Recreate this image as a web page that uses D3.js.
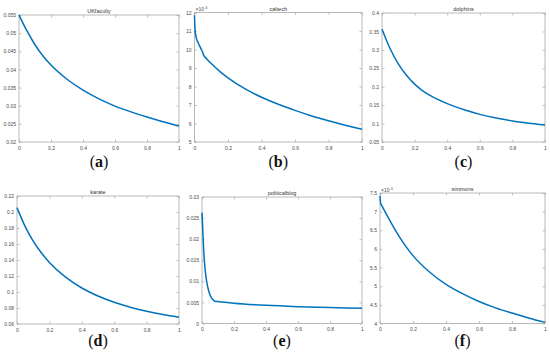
<!DOCTYPE html>
<html><head><meta charset="utf-8">
<script src="https://cdn.jsdelivr.net/npm/d3@7"></script>
<style>html,body{margin:0;padding:0;background:#fff;}svg{display:block;}</style>
</head><body>
<svg id="chart" width="550" height="354"></svg>
<script>
// ---- data ----
const titles = ["UKfaculty","caltech","dolphins","karate","politicalblog","simmons"];
const letters = ["a","b","c","d","e","f"];
const xTicks = [0,0.2,0.4,0.6,0.8,1];

const ukX = [0,0.05,0.1,0.15,0.2,0.3,0.4,0.5,0.6,0.7,0.8,0.9,1];
const ukY = [0.055,0.0506,0.0468,0.0437,0.0412,0.0373,0.0343,0.0319,0.0299,0.0283,0.0269,0.0256,0.0244];

const calX = [0,0.003,0.01,0.02,0.04,0.05,0.055,0.06,0.08,0.1,0.15,0.2,0.3,0.4,0.5,0.6,0.7,0.8,0.9,1];
const calY = [11.85,11.1,10.65,10.4,10.02,9.82,9.68,9.62,9.42,9.24,8.82,8.47,7.88,7.42,7.04,6.71,6.41,6.15,5.91,5.69];

const dolX = [0,0.05,0.1,0.15,0.2,0.25,0.3,0.4,0.5,0.6,0.7,0.8,0.9,1];
const dolY = [0.356,0.303,0.262,0.231,0.207,0.189,0.175,0.154,0.138,0.125,0.115,0.107,0.101,0.096];

const karX = [0,0.05,0.1,0.15,0.2,0.3,0.4,0.5,0.6,0.7,0.8,0.9,1];
const karY = [0.2055,0.182,0.1635,0.149,0.137,0.1185,0.105,0.095,0.0872,0.081,0.076,0.0718,0.0685];

const polX = [0,0.005,0.01,0.015,0.02,0.03,0.04,0.05,0.06,0.07,0.08,0.1,0.2,0.4,0.6,0.8,1];
const polY = [0.0263,0.022,0.0178,0.0148,0.0126,0.0098,0.008,0.0068,0.006,0.0056,0.0053,0.0052,0.0048,0.0043,0.004,0.0038,0.0036];

const simX = [0,0.004,0.01,0.05,0.1,0.15,0.2,0.3,0.4,0.5,0.6,0.7,0.8,0.9,1];
const simY = [7.42,7.22,7.17,6.84,6.45,6.11,5.82,5.38,5.05,4.8,4.59,4.42,4.28,4.15,4.03];

const yTicksA = [0.02,0.025,0.03,0.035,0.04,0.045,0.05,0.055];
const yTicksB = [5,6,7,8,9,10,11,12];
const yTicksC = [0.05,0.1,0.15,0.2,0.25,0.3,0.35,0.4];
const yTicksD = [0.06,0.08,0.1,0.12,0.14,0.16,0.18,0.2,0.22];
const yTicksE = [0,0.005,0.01,0.015,0.02,0.025,0.03];
const yTicksF = [4,4.5,5,5.5,6,6.5,7,7.5];

const series = [
  {x: ukX, y: ukY, ticks: yTicksA, exp: false},
  {x: calX, y: calY, ticks: yTicksB, exp: true},
  {x: dolX, y: dolY, ticks: yTicksC, exp: false},
  {x: karX, y: karY, ticks: yTicksD, exp: false},
  {x: polX, y: polY, ticks: yTicksE, exp: false},
  {x: simX, y: simY, ticks: yTicksF, exp: true}
];

// ---- layout ----
const boxes = [
  {l:19, r:179, t:15, b:142},
  {l:194.5, r:362, t:12.5, b:142},
  {l:382, r:545, t:13, b:142},
  {l:17, r:179, t:196, b:324},
  {l:202, r:362, t:197, b:323.5},
  {l:380, r:545, t:193, b:323.5}
];
const labelY = [167, 167, 167, 346, 346, 346];

const svg = d3.select("#chart");
const axisColor = "#a8a8a8";
const textColor = "#4a4a4a";
const fontTick = "Liberation Sans, Arial, sans-serif";

series.forEach((s, i) => {
  const bx = boxes[i];
  const x = d3.scaleLinear().domain([0,1]).range([bx.l, bx.r]);
  const y = d3.scaleLinear().domain([s.ticks[0], s.ticks[s.ticks.length-1]]).range([bx.b, bx.t]);
  const g = svg.append("g");

  g.append("rect").attr("x", bx.l).attr("y", bx.t)
    .attr("width", bx.r - bx.l).attr("height", bx.b - bx.t)
    .attr("fill", "none").attr("stroke", axisColor).attr("stroke-width", 0.8);

  const fmt = v => d3.format("~g")(+v.toFixed(6));

  const xb = g.append("g").attr("transform", `translate(0,${bx.b})`)
    .call(d3.axisBottom(x).tickValues(xTicks).tickSize(-2.5).tickPadding(4).tickFormat(fmt));
  const xt = g.append("g").attr("transform", `translate(0,${bx.t})`)
    .call(d3.axisTop(x).tickValues(xTicks).tickSize(-2.5).tickFormat(""));
  const yl = g.append("g").attr("transform", `translate(${bx.l},0)`)
    .call(d3.axisLeft(y).tickValues(s.ticks).tickSize(-2.5).tickPadding(3).tickFormat(fmt));
  const yr = g.append("g").attr("transform", `translate(${bx.r},0)`)
    .call(d3.axisRight(y).tickValues(s.ticks).tickSize(-2.5).tickFormat(""));
  [xb, xt, yl, yr].forEach(a => {
    a.select(".domain").remove();
    a.selectAll("line").attr("stroke", axisColor).attr("stroke-width", 0.7);
    a.selectAll("text").attr("fill", textColor).attr("font-size", 5).attr("font-family", fontTick);
  });

  if (s.exp) {
    const t = g.append("text").attr("x", bx.l + 1).attr("y", bx.t - 1.5)
      .attr("font-size", 5).attr("font-family", fontTick).attr("fill", textColor);
    t.append("tspan").text("\u00d710");
    t.append("tspan").attr("dy", -2).attr("font-size", 3.6).text("-3");
  }

  g.append("text").attr("x", (bx.l + bx.r)/2).attr("y", bx.t - 2)
    .attr("text-anchor", "middle").attr("font-size", 5.5).attr("font-family", fontTick)
    .attr("fill", "#333").text(titles[i]);

  const pts = s.x.map((v, k) => [v, s.y[k]]);
  g.append("path").datum(pts)
    .attr("d", d3.line().x(d => x(d[0])).y(d => y(d[1])).curve(d3.curveMonotoneX))
    .attr("fill", "none").attr("stroke", "#0072BD").attr("stroke-width", 1.5);

  const lab = svg.append("text").attr("x", (bx.l + bx.r)/2).attr("y", labelY[i])
    .attr("text-anchor", "middle").attr("font-size", 16)
    .attr("font-family", "Liberation Serif, Times New Roman, serif").attr("fill", "#111");
  lab.append("tspan").text("(");
  lab.append("tspan").attr("font-weight", "bold").text(letters[i]);
  lab.append("tspan").text(")");
});
</script>
</body></html>
